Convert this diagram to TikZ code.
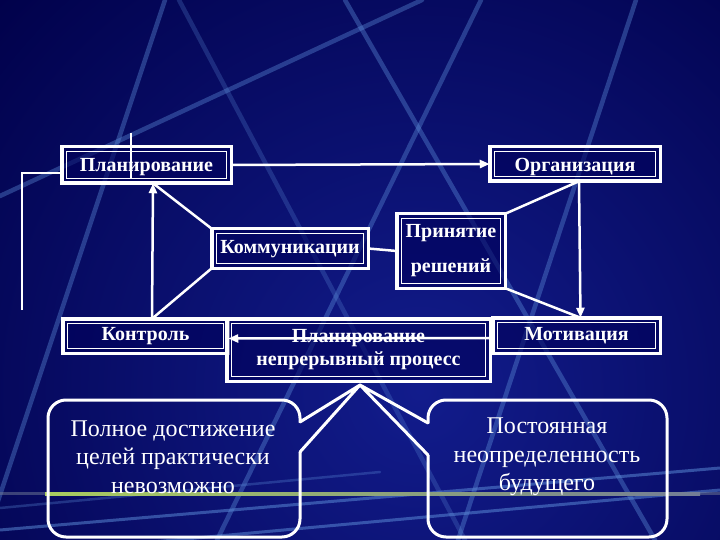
\documentclass[tikz,border=0pt]{standalone}
\usepackage{fontspec}
\setmainfont{Liberation Serif}
\usetikzlibrary{arrows.meta,calc}
\definecolor{bgin}{RGB}{18,28,140}
\definecolor{bgout}{RGB}{0,0,72}
\definecolor{navybox}{RGB}{0,0,90}
\definecolor{streak}{RGB}{95,145,220}
\definecolor{limeline}{RGB}{170,205,95}
\definecolor{grayline}{RGB}{115,125,150}
\begin{document}
\begin{tikzpicture}[x=1pt,y=-1pt,
  box/.style={draw=white, line width=3.5pt, fill=navybox, fill opacity=0.6, text opacity=1,
    text=white, font=\bfseries\fontsize{20}{23}\selectfont, align=center, inner sep=0pt, outer sep=0pt},
  one/.style={text height=#1, text depth=0pt},
  innerline/.style={draw=white, line width=1pt},
  conn/.style={draw=white, line width=2.5pt},
  arr/.style={conn, -{Triangle[length=10pt,width=8pt]}},
  bubble/.style={draw=white, line width=3pt, rounded corners=18pt, line join=round},
  pointer/.style={draw=white, line width=3pt, line join=round, line cap=round},
  btext/.style={text=white, align=center, font=\fontsize{24}{28.5}\selectfont},
  streakline/.style={draw=streak, line width=4.5pt, opacity=0.38, line cap=round}
]
\useasboundingbox (0,0) rectangle (720,540);
% background
\begin{scope}
  \clip (0,0) rectangle (720,540);
  \fill[bgout] (0,0) rectangle (720,540);
  \shade[inner color=bgin, outer color=bgout] (420,390) circle (600);
  \draw[streakline] (165,0) -- (-15,540);
  \draw[streakline] (0,196) -- (422,0);
  \draw[streakline] (345,0) -- (655,540);
  \draw[streakline] (481,0) -- (217,540);
  \draw[streakline] (636,0) -- (458,540);
  \draw[streakline, opacity=0.25] (179,0) -- (465,540);
  \draw[streakline, line width=3pt, opacity=0.5] (0,530) -- (720,468);
  \draw[streakline, line width=3pt, opacity=0.5] (120,545) -- (720,490);
  \draw[streakline, line width=2.5pt, opacity=0.3] (0,508) -- (380,472);
  \draw[grayline, line width=2.5pt, opacity=0.5] (0,493.5) -- (720,493.5);
  \shade[left color=limeline, right color=grayline] (45,492) rectangle (700,495);
\end{scope}

% boxes
\node[box, one=14pt, minimum width=169.5pt, minimum height=36.5pt] (plan) at (146.5,165) {Планирование};
\node[box, one=16pt, minimum width=170.5pt, minimum height=34.5pt] (org) at (575,164) {Организация};
\node[box, one=10pt, minimum width=156.5pt, minimum height=39.5pt] (comm) at (290,248.5) {Коммуникации};
\node[box, minimum width=108.5pt, minimum height=74.5pt, font=\bfseries\fontsize{20}{35}\selectfont] (dec) at (451,251) {Принятие\\решений};
\node[box, one=9pt, minimum width=165.5pt, minimum height=34.5pt] (kon) at (145.5,336) {Контроль};
\node[box, minimum width=263.5pt, minimum height=62.5pt] (proc) at (358.5,350) {Планирование\\непрерывный процесс};
\node[box, one=9pt, minimum width=167.5pt, minimum height=35.5pt] (mot) at (576.5,335.5) {Мотивация};
\foreach \n in {plan,org,comm,dec,kon,proc,mot}
  \draw[innerline] ([shift={(4.5,4.5)}]\n.north west) rectangle ([shift={(-4.5,-4.5)}]\n.south east);

% connectors
\draw[arr] (plan.east) -- (org.west);
\draw[arr] ([xshift=4pt]org.south) -- ([xshift=4pt]mot.north);
\draw[arr] ([xshift=6.5pt]kon.north) -- ([xshift=6.5pt]plan.south);
\draw[conn] ([xshift=6.5pt]plan.south) -- (comm.north west);
\draw[conn] (comm.south west) -- ([xshift=6.5pt]kon.north);
\draw[conn] (comm.east) -- (dec.west);
\draw[conn] (dec.north east) -- ([xshift=4pt]org.south);
\draw[conn] (dec.south east) -- ([xshift=4pt]mot.north);
\draw[arr] ([yshift=-2.5pt]mot.west) -- ([yshift=-2.5pt]kon.east);

% feedback marks
\coordinate (fbtop) at (131,133);
\coordinate (fbend) at (131,178);
\draw[conn] (fbtop) -- (fbend);
\coordinate (lbot) at (22,310);
\draw[conn] (lbot) |- ([yshift=-8pt]plan.west);

% callouts
\coordinate (apex) at (360,385);
\draw[bubble] (300,422) -- (300,400) -- (48,400) -- (48,537) -- (300,537) -- (300,452);
\draw[pointer] (300,422) -- (apex) -- (300,452);
\draw[bubble] (428,423) -- (428,400) -- (667,400) -- (667,537) -- (428,537) -- (428,455);
\draw[pointer] (428,423) -- (apex) -- (428,455);
\node[btext] (t1) at (173,457) {Полное достижение\\целей практически\\невозможно};
\node[btext] (t2) at (547,457) {Постоянная\\неопределенность\\будущего};
\end{tikzpicture}
\end{document}
